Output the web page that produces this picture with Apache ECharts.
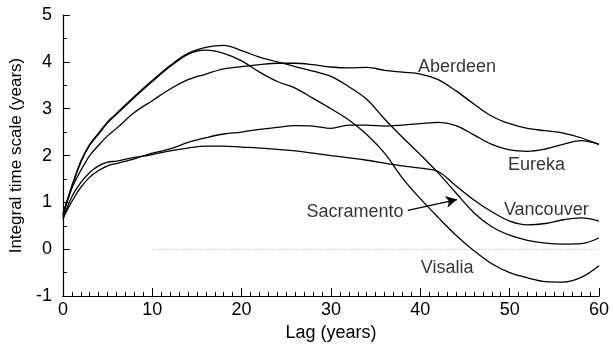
<!DOCTYPE html>
<html>
<head>
<meta charset="utf-8">
<script src="https://cdn.jsdelivr.net/npm/echarts@6/dist/echarts.min.js"></script>
<style>
  html, body { margin: 0; padding: 0; background: #fff; }
  #chart { width: 613px; height: 347px; }
</style>
</head>
<body>
<div id="chart"></div>
<script>
// Lag values (years) shared by every station curve
const lags = [0, 1, 2, 3, 4, 5, 6, 8, 10, 12, 14, 16, 18, 20, 22, 24, 26, 28, 30,
  32, 34, 36, 38, 40, 42, 44, 46, 48, 50, 52, 54, 56, 58, 60];

// Integral time scale (years) for each station at the lags above
const aberdeen = [0.70, 1.30, 1.68, 2.00, 2.22, 2.42, 2.58, 2.92, 3.17, 3.42, 3.62, 3.74, 3.85, 3.90,
  3.94, 3.97, 3.97, 3.94, 3.89, 3.87, 3.88, 3.82, 3.78, 3.74, 3.62, 3.38, 3.10, 2.84,
  2.68, 2.58, 2.53, 2.48, 2.38, 2.24];
const eureka = [0.65, 1.02, 1.32, 1.54, 1.68, 1.78, 1.83, 1.93, 2.05, 2.14, 2.28, 2.38, 2.46, 2.50,
  2.56, 2.60, 2.64, 2.63, 2.58, 2.65, 2.65, 2.63, 2.65, 2.68, 2.71, 2.64, 2.44, 2.24,
  2.12, 2.09, 2.14, 2.24, 2.32, 2.24];
const vancouver = [0.65, 1.12, 1.42, 1.64, 1.78, 1.86, 1.88, 1.96, 2.02, 2.10, 2.16, 2.20, 2.20, 2.18,
  2.16, 2.13, 2.10, 2.05, 2.00, 1.95, 1.90, 1.84, 1.78, 1.73, 1.66, 1.35, 1.05, 0.80,
  0.60, 0.52, 0.55, 0.63, 0.67, 0.60];
const sacramento = [0.75, 1.35, 1.88, 2.24, 2.48, 2.72, 2.90, 3.26, 3.60, 3.92, 4.18, 4.31, 4.35, 4.24,
  4.10, 4.00, 3.90, 3.80, 3.69, 3.47, 3.20, 2.78, 2.39, 2.02, 1.63, 1.20, 0.78, 0.48,
  0.30, 0.19, 0.13, 0.11, 0.12, 0.24];
const visalia = [0.75, 1.33, 1.85, 2.22, 2.46, 2.70, 2.88, 3.24, 3.58, 3.90, 4.16, 4.25, 4.18, 4.02,
  3.78, 3.58, 3.44, 3.22, 3.00, 2.76, 2.45, 2.05, 1.52, 1.08, 0.68, 0.30, -0.03, -0.31,
  -0.50, -0.61, -0.69, -0.70, -0.60, -0.35];

// Axis ticks
const xTicks = [0, 10, 20, 30, 40, 50, 60];
const yTicks = [-1, 0, 1, 2, 3, 4, 5];

// Station names and where their names sit (lag, value)
const stationNames = ['Aberdeen', 'Eureka', 'Vancouver', 'Sacramento', 'Visalia'];
const nameLag = [44.1, 53.0, 54.1, 32.7, 43.0];
const nameValue = [3.90, 1.80, 0.83, 0.79, -0.41];

// Pointer from the Sacramento name to its curve
const arrowFrom = [38.6, 0.83];
const arrowTo = [44.1, 1.06];

const stationValues = [aberdeen, eureka, vancouver, sacramento, visalia];
const fontFamily = '"Liberation Sans", Arial, Helvetica, sans-serif';

const lineSeries = stationValues.map((vals, i) => ({
  name: stationNames[i],
  type: 'line',
  data: lags.map((l, k) => [l, vals[k]]),
  showSymbol: false,
  smooth: 0.35,
  lineStyle: { color: '#000', width: 1.3 },
  silent: true,
  z: 3
}));

// Dotted zero reference
lineSeries[0].markLine = {
  silent: true,
  symbol: ['none', 'none'],
  label: { show: false },
  lineStyle: { color: '#aaa', type: [1, 2], width: 1 },
  data: [[{ coord: [10, 0] }, { coord: [60, 0] }]]
};

// Arrow for Sacramento
lineSeries[3].markLine = {
  silent: true,
  symbol: ['none', 'arrow'],
  symbolSize: [9, 11],
  label: { show: false },
  lineStyle: { color: '#000', type: 'solid', width: 1.3 },
  data: [[{ coord: arrowFrom }, { coord: arrowTo }]]
};

const nameSeries = {
  type: 'scatter',
  data: stationNames.map((n, i) => [nameLag[i], nameValue[i], n]),
  symbolSize: 1,
  itemStyle: { color: 'rgba(0,0,0,0)' },
  silent: true,
  label: {
    show: true,
    position: 'inside',
    formatter: p => p.data[2],
    color: '#000',
    fontSize: 18,
    fontFamily: fontFamily
  },
  z: 5
};

const chart = echarts.init(document.getElementById('chart'), null, { renderer: 'canvas' });
chart.setOption({
  animation: false,
  backgroundColor: '#fff',
  grid: { left: 54, right: 14, top: 15, bottom: 47 },
  xAxis: {
    type: 'value',
    min: xTicks[0],
    max: xTicks[xTicks.length - 1],
    interval: xTicks[1] - xTicks[0],
    name: 'Lag (years)',
    nameLocation: 'middle',
    nameGap: 27,
    nameTextStyle: { color: '#000', fontSize: 18, fontFamily: fontFamily },
    axisLine: { onZero: false, lineStyle: { color: '#000', width: 1.2 } },
    axisTick: { inside: true, length: 8, lineStyle: { color: '#000', width: 1 } },
    minorTick: { show: true, splitNumber: 10, length: 4, lineStyle: { color: '#000', width: 1 } },
    axisLabel: { color: '#000', fontSize: 18, fontFamily: fontFamily, margin: 5 },
    splitLine: { show: false }
  },
  yAxis: {
    type: 'value',
    min: yTicks[0],
    max: yTicks[yTicks.length - 1],
    interval: yTicks[1] - yTicks[0],
    name: 'Integral time scale (years)',
    nameLocation: 'middle',
    nameGap: 33,
    nameTextStyle: { color: '#000', fontSize: 17, fontFamily: fontFamily },
    axisLine: { show: true, onZero: false, lineStyle: { color: '#000', width: 1.2 } },
    axisTick: { show: true, inside: true, length: 7, lineStyle: { color: '#000', width: 1 } },
    minorTick: { show: true, splitNumber: 2, length: 4, lineStyle: { color: '#000', width: 1 } },
    axisLabel: { color: '#000', fontSize: 18, fontFamily: fontFamily, margin: 11 },
    splitLine: { show: false }
  },
  series: lineSeries.concat([nameSeries])
});
</script>
</body>
</html>
